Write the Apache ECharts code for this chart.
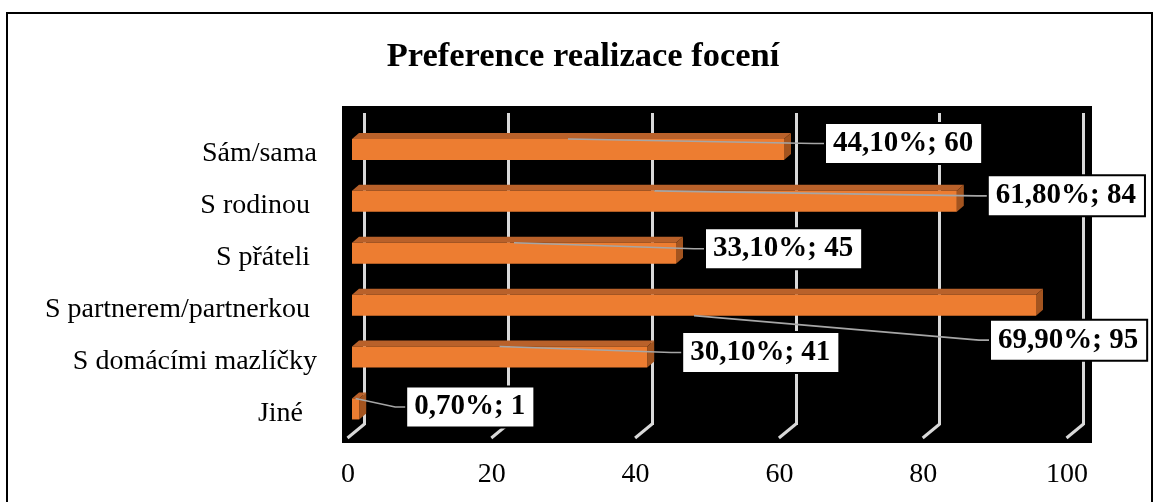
<!DOCTYPE html>
<html>
<head>
<meta charset="utf-8">
<script src="https://cdn.jsdelivr.net/npm/echarts@6/dist/echarts.min.js"></script>
<style>
  html, body { margin: 0; padding: 0; background: #fff; }
  #chart { width: 1154px; height: 502px; }
</style>
</head>
<body>
<div id="chart"></div>
<script>
// Survey answers: who people prefer to be photographed with
const categories = ['Sám/sama', 'S rodinou ', 'S přáteli ', 'S partnerem/partnerkou ', 'S domácími mazlíčky', 'Jiné  '];
const counts = [60, 84, 45, 95, 41, 1];
const percents = ['44,10%', '61,80%', '33,10%', '69,90%', '30,10%', '0,70%'];
const xTicks = [0, 20, 40, 60, 80, 100];

// Where each value label box sits, relative to the end of its bar (px),
// and which edge of the bar its leader line leaves from.
const labelPlacement = [
  { dx: 42, dy: -6, edge: 'top' },
  { dx: 32, dy: -5.5, edge: 'top' },
  { dx: 30, dy: -4.5, edge: 'top' },
  { dx: -45, dy: 35, edge: 'bottom' },
  { dx: 36, dy: -4.5, edge: 'top' },
  { dx: 48, dy: -2, edge: 'top' }
];

const FONT = '"Liberation Serif", "Times New Roman", serif';
const DEPTH_X = 7, DEPTH_Y = 6;          // 3D extrusion of the bars
const FLOOR_DX = -17, FLOOR_DY = 13;     // floor slant of the gridlines

const chart = echarts.init(document.getElementById('chart'), null, { renderer: 'canvas' });

const barData = counts.map((v, i) => [v, i]);

const option = {
  animation: false,
  backgroundColor: '#fff',
  title: {
    text: 'Preference realizace focení',
    left: 578,
    textAlign: 'center',
    top: 35,
    textStyle: { fontFamily: FONT, fontWeight: 'bold', fontSize: 34.5, color: '#000' }
  },
  graphic: [{
    type: 'rect',
    shape: { x: 7, y: 13, width: 1145, height: 520 },
    style: { fill: null, stroke: '#000', lineWidth: 2 },
    silent: true
  }],
  grid: [
    // black wall behind the plot
    { left: 342, top: 106, width: 750, height: 337, show: true, backgroundColor: '#000', borderWidth: 0 },
    // back wall gridlines
    { left: 364.5, top: 113, width: 719, height: 312 },
    // front edge carrying the value axis labels
    { left: 348, top: 113, width: 719, height: 330 },
    // bars
    { left: 352, top: 123.5, width: 720, height: 311.4 },
    // category labels on the left wall
    { left: 352, top: 128, width: 720, height: 311.4 }
  ],
  xAxis: [
    { gridIndex: 0, type: 'value', min: 0, max: 1, show: false },
    {
      gridIndex: 1, type: 'value', min: 0, max: 100, interval: 20,
      axisLine: { show: false }, axisTick: { show: false }, axisLabel: { show: false },
      splitLine: { show: true, lineStyle: { color: '#d9d9d9', width: 3 } }
    },
    {
      gridIndex: 2, type: 'value', min: 0, max: 100, interval: 20,
      axisLine: { show: false }, axisTick: { show: false }, splitLine: { show: false },
      axisLabel: { show: true, margin: 18, fontFamily: FONT, fontSize: 28, color: '#000' }
    },
    { gridIndex: 3, type: 'value', min: 0, max: 100, show: false },
    { gridIndex: 4, type: 'value', min: 0, max: 100, show: false }
  ],
  yAxis: [
    { gridIndex: 0, type: 'value', min: 0, max: 1, show: false },
    { gridIndex: 1, type: 'value', min: 0, max: 1, show: false },
    { gridIndex: 2, type: 'value', min: 0, max: 1, show: false },
    {
      gridIndex: 3, type: 'category', data: categories, inverse: true,
      axisLine: { show: false }, axisTick: { show: false }, splitLine: { show: false },
      axisLabel: { show: false }
    },
    {
      gridIndex: 4, type: 'category', data: categories, inverse: true,
      axisLine: { show: false }, axisTick: { show: false }, splitLine: { show: false },
      axisLabel: { margin: 35, fontFamily: FONT, fontSize: 28, color: '#000' }
    }
  ],
  series: [
    {
      // slanted floor part of each gridline
      type: 'custom',
      xAxisIndex: 1, yAxisIndex: 1,
      data: xTicks.map(v => [v, 0]),
      z: 3,
      silent: true,
      renderItem: function (params, api) {
        const p = api.coord([api.value(0), 0]);
        return {
          type: 'line',
          shape: { x1: p[0], y1: p[1] - 1, x2: p[0] + FLOOR_DX, y2: p[1] + FLOOR_DY },
          style: { stroke: '#d9d9d9', lineWidth: 3 }
        };
      }
    },
    {
      // 3D bars: front face, top face, end face
      type: 'custom',
      xAxisIndex: 3, yAxisIndex: 3,
      data: barData,
      encode: { x: 0, y: 1 },
      z: 5,
      renderItem: function (params, api) {
        const idx = api.value(1);
        const start = api.coord([0, idx]);
        const end = api.coord([api.value(0), idx]);
        const h = api.size([0, 1])[1] * 0.405;
        const x0 = start[0], x1 = end[0];
        const y0 = start[1] - h / 2, y1 = start[1] + h / 2;
        return {
          type: 'group',
          children: [
            {
              type: 'polygon',
              shape: { points: [[x0, y0], [x0 + DEPTH_X, y0 - DEPTH_Y], [x1 + DEPTH_X, y0 - DEPTH_Y], [x1, y0]] },
              style: { fill: '#b9612a' }
            },
            {
              type: 'polygon',
              shape: { points: [[x1, y0], [x1 + DEPTH_X, y0 - DEPTH_Y], [x1 + DEPTH_X, y1 - DEPTH_Y], [x1, y1]] },
              style: { fill: '#a3541f' }
            },
            {
              type: 'rect',
              shape: { x: x0, y: y0, width: x1 - x0, height: h },
              style: { fill: '#ed7d31' }
            }
          ]
        };
      }
    },
    {
      // value labels with leader lines
      type: 'custom',
      xAxisIndex: 3, yAxisIndex: 3,
      data: barData,
      encode: { x: 0, y: 1 },
      z: 8,
      silent: true,
      renderItem: function (params, api) {
        const i = params.dataIndex;
        const idx = api.value(1);
        const v = api.value(0);
        const place = labelPlacement[i];
        const start = api.coord([0, idx]);
        const end = api.coord([v, idx]);
        const mid = api.coord([v / 2, idx]);
        const h = api.size([0, 1])[1] * 0.405;
        const boxLeft = end[0] + place.dx;
        const cy = end[1] + place.dy;
        const lineY = place.edge === 'top' ? start[1] - h / 2 : start[1] + h / 2;
        return {
          type: 'group',
          children: [
            {
              type: 'polyline',
              shape: { points: [[mid[0], lineY], [boxLeft - 12, cy], [boxLeft, cy]] },
              style: { stroke: '#a6a6a6', lineWidth: 1.6, fill: null }
            },
            {
              type: 'text',
              x: boxLeft,
              y: cy,
              style: {
                text: percents[i] + '; ' + counts[i],
                font: 'bold 29px ' + FONT,
                fill: '#000',
                align: 'left',
                verticalAlign: 'middle',
                lineHeight: 31,
                backgroundColor: '#fff',
                borderColor: '#000',
                borderWidth: 2,
                padding: [4, 8, 4, 7]
              }
            }
          ]
        };
      }
    }
  ]
};

chart.setOption(option);
</script>
</body>
</html>
